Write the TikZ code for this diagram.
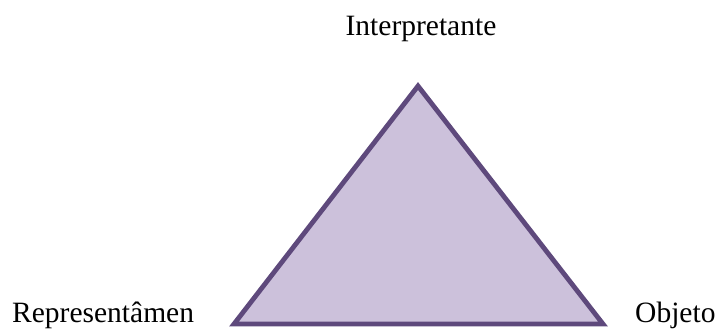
\documentclass[tikz,border=0pt]{standalone}
\usepackage{fontspec}
\setmainfont{Liberation Serif}
\definecolor{trifill}{RGB}{204,193,219}
\definecolor{tristroke}{RGB}{94,73,124}
\begin{document}
\begin{tikzpicture}[x=1pt,y=-1pt,
  lbl/.style={inner sep=0pt,font=\fontsize{29.5}{34}\selectfont,text=black}]
\useasboundingbox (0,0) rectangle (722,329);
\coordinate (top) at (418,86);
\coordinate (bl) at (234,324);
\coordinate (br) at (603,324);
\draw[line width=4.8pt,draw=tristroke,fill=trifill,line join=miter] (top) -- (br) -- (bl) -- cycle;
\node[lbl,anchor=base] (interp) at (421,36) {Interpretante};
\node[lbl,anchor=base west] (repr) at (12,322) {Representâmen};
\node[lbl,anchor=base west] (obj) at (635,322) {Objeto};
\end{tikzpicture}
\end{document}
